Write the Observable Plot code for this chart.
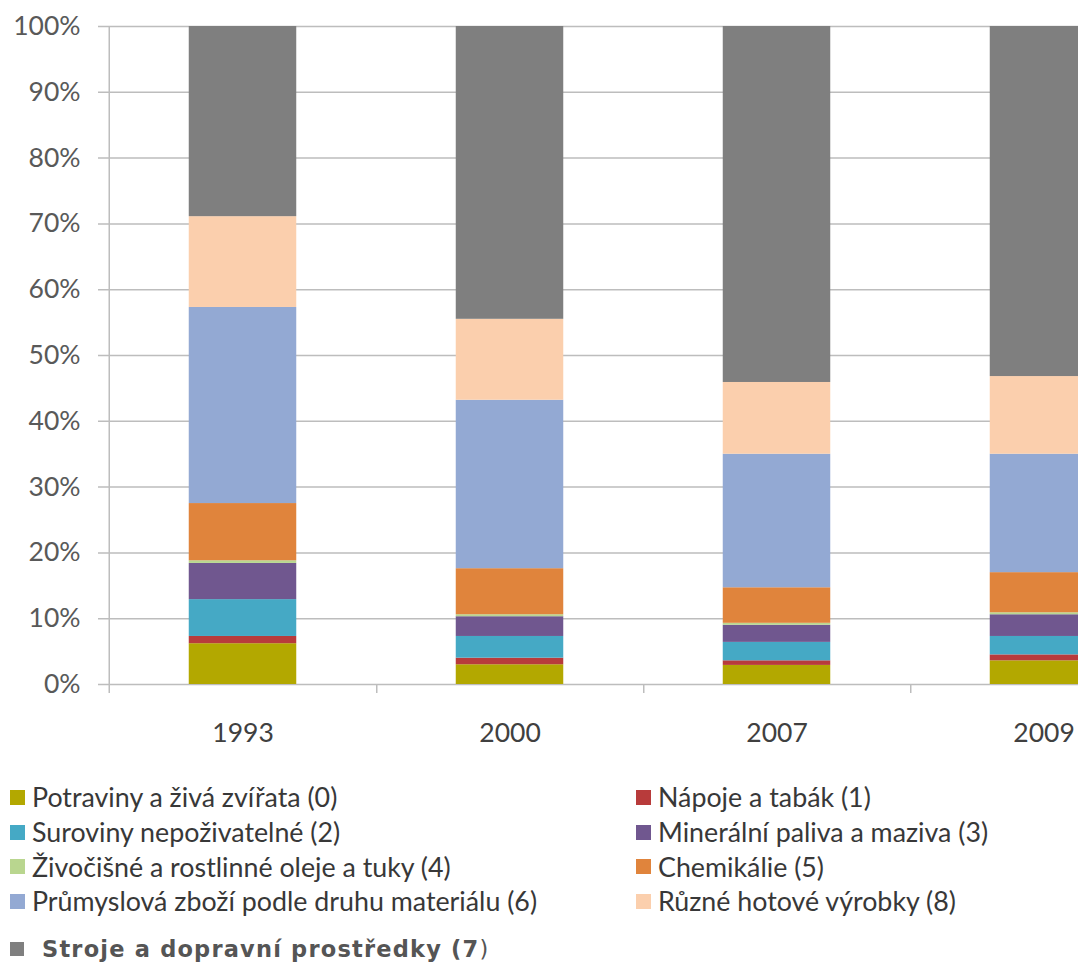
<!DOCTYPE html>
<html>
<head>
<meta charset="utf-8">
<script src="https://cdn.jsdelivr.net/npm/d3@7"></script>
<script src="https://cdn.jsdelivr.net/npm/@observablehq/plot@0.6"></script>
<style>
  html, body { margin: 0; padding: 0; background: #fff; width: 1078px; height: 972px; overflow: hidden; }
  #chart { width: 1178px; height: 770px; overflow: visible; }
  #chart svg { display: block; max-width: none !important; width: 1178px; height: 770px; }
  .legend { font-family: Lato, "Open Sans", sans-serif; font-size: 26.8px; color: #383838; position: relative; }
  .grid { display: grid; grid-template-columns: 626px 440px; padding-left: 10px; padding-top: 10px; }
  .item { display: flex; align-items: center; height: 34.7px; white-space: nowrap; }
  .sw { width: 15px; height: 15px; margin-right: 7px; flex: none; }
  .last { display: flex; align-items: center; padding-left: 10px; margin-top: 12px; height: 36px;
          font-family: "DejaVu Sans", "Liberation Sans", Arial, sans-serif; font-weight: bold; font-size: 22.5px;
          letter-spacing: 1.2px; color: #555; white-space: nowrap; }
  .last .sw { width: 14px; height: 14px; margin-right: 18px; }
</style>
</head>
<body>
<div id="chart"></div>
<div class="legend" id="legend"></div>
<script>
const years = ["1993", "2000", "2007", "2009"];
const seriesNames = [
  "Potraviny a živá zvířata (0)",
  "Nápoje a tabák (1)",
  "Suroviny nepoživatelné (2)",
  "Minerální paliva a maziva (3)",
  "Živočišné a rostlinné oleje a tuky (4)",
  "Chemikálie (5)",
  "Průmyslová zboží podle druhu materiálu (6)",
  "Různé hotové výrobky (8)",
  "Stroje a dopravní prostředky (7)"
];
const seriesColors = ["#b3a800", "#b83b3b", "#45a9c5", "#70578f", "#b9d68f", "#e0843c", "#93a9d3", "#fbcfad", "#7f7f7f"];
const food   = [6.2, 3.0, 2.9, 3.6];
const bev    = [1.1, 1.0, 0.7, 0.9];
const crude  = [5.6, 3.3, 2.8, 2.8];
const fuels  = [5.5, 3.0, 2.6, 3.3];
const oils   = [0.4, 0.3, 0.3, 0.3];
const chem   = [8.7, 7.0, 5.4, 6.1];
const manuf  = [29.8, 25.6, 20.3, 18.0];
const misc   = [13.8, 12.3, 10.9, 11.8];
const mach   = [28.9, 44.5, 54.1, 53.2];
const yTicks = [0, 10, 20, 30, 40, 50, 60, 70, 80, 90, 100];

const seriesValues = [food, bev, crude, fuels, oils, chem, manuf, misc, mach];
const rows = [];
seriesNames.forEach((s, si) => years.forEach((y, yi) => rows.push({year: y, series: s, value: seriesValues[si][yi]})));

const width = 1178, marginLeft = 108, marginRight = 0;
const step = (width - marginLeft - marginRight) / years.length;
const barInset = (step - 108) / 2;
const gridColor = "#bdbdbd";

const chart = Plot.plot({
  width, height: 770,
  marginLeft, marginRight, marginTop: 26, marginBottom: 86,
  style: {fontFamily: "Lato, 'Open Sans', sans-serif", fontSize: "26.5px", color: "#595959", background: "#fff", maxWidth: "none"},
  x: {domain: years, padding: 0, label: null},
  y: {domain: [0, 100], label: null},
  color: {domain: seriesNames, range: seriesColors},
  marks: [
    Plot.ruleY(yTicks, {stroke: gridColor, strokeWidth: 1.5, insetLeft: -10}),
    Plot.axisY({ticks: yTicks, tickFormat: d => d + "%", tickSize: 0, tickPadding: 28, label: null, fill: "#595959"}),
    Plot.barY(rows, Plot.stackY({order: null}, {x: "year", y: "value", fill: "series", insetLeft: barInset, insetRight: barInset})),
    Plot.ruleX([years[0]], {x: d => d, dx: -step / 2, stroke: gridColor, strokeWidth: 1.5, y1: 0, y2: 100}),
    Plot.ruleX(years, {x: d => d, dx: step / 2, y1: 0, y2: 0, insetBottom: -9, stroke: gridColor, strokeWidth: 1.5}),
    Plot.ruleX([years[0]], {x: d => d, dx: -step / 2, y1: 0, y2: 0, insetBottom: -9, stroke: gridColor, strokeWidth: 1.5}),
    Plot.axisX({tickSize: 0, tickPadding: 39, label: null, fill: "#404040"})
  ]
});
document.getElementById("chart").appendChild(chart);

// legend
const legend = document.getElementById("legend");
const grid = document.createElement("div");
grid.className = "grid";
seriesNames.slice(0, 8).forEach((s, i) => {
  const it = document.createElement("div");
  it.className = "item";
  it.innerHTML = `<span class="sw" style="background:${seriesColors[i]}"></span><span>${s}</span>`;
  grid.appendChild(it);
});
legend.appendChild(grid);
const last = document.createElement("div");
last.className = "last";
const lastName = seriesNames[8];
last.innerHTML = `<span class="sw" style="background:${seriesColors[8]}"></span><span>${lastName.slice(0, -1)}<span style="font-weight:normal">${lastName.slice(-1)}</span></span>`;
legend.appendChild(last);
</script>
</body>
</html>
